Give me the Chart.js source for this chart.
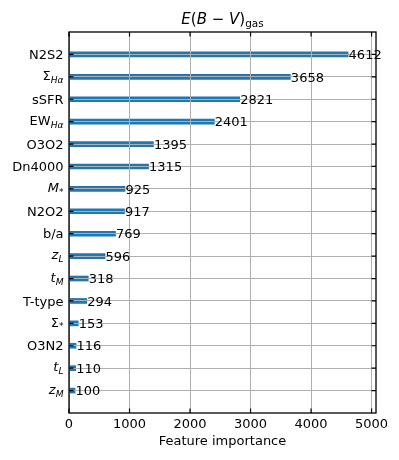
<!DOCTYPE html>
<html><head><meta charset="utf-8">
<script src="https://cdn.jsdelivr.net/npm/chart.js@4"></script>
<style>html,body{margin:0;padding:0;background:#fff;}</style>
</head><body>
<div style="width:399px;height:460px;position:relative"><canvas id="c"></canvas></div>
<script>
// Feature names ($...$ = italic math, _ starts subscript)
const categories = ['N2S2','Σ_$Hα$','sSFR','EW_$Hα$','O3O2','Dn4000','$M$_*','N2O2','b/a','$z$_$L$','$t$_$M$','T-type','Σ_*','O3N2','$t$_$L$','$z$_$M$'];
const importance = [4612,3658,2821,2401,1395,1315,925,917,769,596,318,294,153,116,110,100];
const xTickValues = [0,1000,2000,3000,4000,5000];
const xMax = 5073;
const chartTitle = '$E$($B$ − $V$)_gas';
const xTitle = 'Feature importance';

const FONT = '"DejaVu Sans", sans-serif';
Chart.defaults.font.family = FONT;
Chart.defaults.color = '#000';

function parseRich(s){
  const idx = s.indexOf('_');
  const main = idx<0 ? s : s.slice(0,idx);
  const sub = idx<0 ? null : s.slice(idx+1);
  const out = [];
  const add = (str, isSub) => str.split('$').forEach((p,k)=>{ if(p) out.push({text:p, italic:k%2===1, sub:isSub}); });
  add(main,false); if(sub!==null) add(sub,true);
  return out;
}
function drawRich(ctx, str, x, baseline, size, align){
  const segs = parseRich(str);
  const subSize = size*0.7;
  const fontFor = s => `${s.italic?'italic ':''}${s.sub?subSize:size}px ${FONT}`;
  let w = 0;
  segs.forEach(s=>{ ctx.font = fontFor(s); s.w = ctx.measureText(s.text).width; w += s.w; });
  let cx = align==='right' ? x-w : align==='center' ? x-w/2 : x;
  ctx.textAlign = 'left'; ctx.textBaseline = 'alphabetic';
  segs.forEach(s=>{ ctx.font = fontFor(s); ctx.fillText(s.text, cx, baseline + (s.sub ? size*0.22 : 0)); cx += s.w; });
}

const decor = {
  id: 'decor',
  afterDraw(chart){
    const ctx = chart.ctx;
    const {left,right,top,bottom} = chart.chartArea;
    const xs = chart.scales.x, ys = chart.scales.y;
    ctx.save();
    ctx.fillStyle = '#000';
    // value labels
    importance.forEach((v,i)=>{
      const y = ys.getPixelForValue(i);
      ctx.font = `13px ${FONT}`; ctx.textAlign='left'; ctx.textBaseline='alphabetic';
      ctx.fillText(String(v), xs.getPixelForValue(v)+0.5, y+4.7);
    });
    // y labels
    categories.forEach((c,i)=>{
      const y = ys.getPixelForValue(i);
      const hasSub = c.indexOf('_')>=0;
      drawRich(ctx, c, left-5.5, y + 4.7 - (hasSub?1.5:0), 13, 'right');
    });
    // title
    drawRich(ctx, chartTitle, (left+right)/2, 23.5, 15, 'center');
    // tick marks (inward)
    ctx.strokeStyle = '#000'; ctx.lineWidth = 1.2;
    ctx.beginPath();
    categories.forEach((c,i)=>{
      const y = ys.getPixelForValue(i);
      ctx.moveTo(left, y); ctx.lineTo(left+4.5, y);
      ctx.moveTo(right, y); ctx.lineTo(right-4.5, y);
    });
    xTickValues.forEach(v=>{
      const x = xs.getPixelForValue(v);
      ctx.moveTo(x, bottom); ctx.lineTo(x, bottom-4.5);
      ctx.moveTo(x, top); ctx.lineTo(x, top+4.5);
    });
    ctx.stroke();
    // frame
    ctx.lineWidth = 1.3;
    ctx.strokeRect(left, top, right-left, bottom-top);
    ctx.restore();
  }
};

new Chart(document.getElementById('c'), {
  type: 'bar',
  data: {
    datasets: [{
      data: importance.map((v,i)=>({x:v, y:i})),
      backgroundColor: '#1f77b4',
      borderWidth: 0,
      barThickness: 5
    }]
  },
  options: {
    indexAxis: 'y',
    responsive: true,
    maintainAspectRatio: false,
    animation: false,
    layout: { padding: { top: 32, right: 23, left: 0, bottom: 0 } },
    plugins: { legend: {display:false}, tooltip: {enabled:false}, title: {display:false} },
    scales: {
      x: {
        type: 'linear', min: 0, max: xMax,
        afterBuildTicks: s => { s.ticks = xTickValues.map(v=>({value:v})); },
        afterFit: s => { s.height = 47; },
        grid: { color: '#b0b0b0', lineWidth: 1, drawTicks: false, z: 1 },
        border: { display: false },
        ticks: { font: { size: 13 }, color: '#000', padding: 4, maxRotation: 0, callback: v => String(v) },
        title: { display: true, text: xTitle, font: { size: 13 }, color: '#000', padding: { top: 0, bottom: 11 } }
      },
      y: {
        type: 'linear', min: -1, max: 16, reverse: true, offset: false,
        afterBuildTicks: s => { s.ticks = categories.map((c,i)=>({value:i})); },
        afterFit: s => { s.width = 69; },
        grid: { color: '#b0b0b0', lineWidth: 1, drawTicks: false, offset: false, z: 1 },
        border: { display: false },
        ticks: { display: false }
      }
    }
  },
  plugins: [decor]
});
</script>
</body></html>
